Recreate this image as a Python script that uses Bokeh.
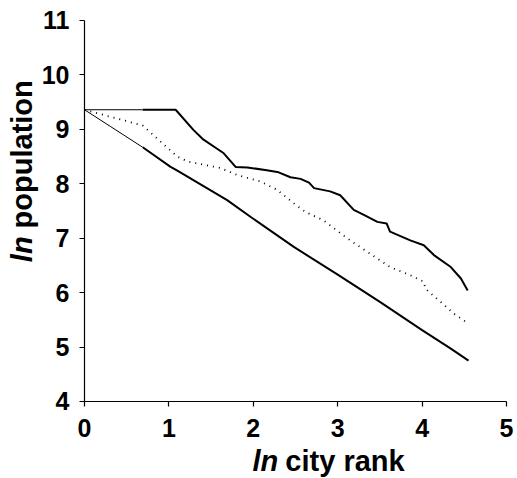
from bokeh.plotting import figure
from bokeh.models import Range1d, Label, LinearAxis, FixedTicker
from bokeh.embed import file_html
from bokeh.resources import INLINE
import math

# ln city rank / ln population
top_x = [0, 0.69, 1.08, 1.29, 1.41, 1.65, 1.79, 1.93, 2.16, 2.30, 2.44, 2.56, 2.66, 2.72,
         2.91, 3.03, 3.19, 3.31, 3.47, 3.58, 3.62, 3.86, 4.02, 4.14, 4.34, 4.46, 4.54]
top_y = [9.36, 9.36, 9.36, 8.99, 8.81, 8.56, 8.31, 8.30, 8.25, 8.21, 8.12, 8.09, 8.02, 7.92,
         7.86, 7.79, 7.52, 7.43, 7.30, 7.27, 7.12, 6.96, 6.87, 6.69, 6.47, 6.26, 6.04]

mid_x = [0, 0.69, 1.10, 1.22, 1.41, 1.61, 1.81, 2.09, 2.28, 2.48, 2.62, 2.83, 3.11, 3.35,
         3.62, 3.86, 4.02, 4.04, 4.22, 4.38, 4.55]
mid_y = [9.36, 9.07, 8.50, 8.41, 8.35, 8.29, 8.16, 8.04, 7.89, 7.64, 7.48, 7.33, 7.00, 6.75,
         6.47, 6.32, 6.20, 6.07, 5.83, 5.61, 5.43]

bot_x = [0, 0.31, 0.69, 1.02, 1.10, 1.69, 1.97, 2.48, 3.0, 3.5, 4.0, 4.34, 4.55]
bot_y = [9.36, 9.05, 8.67, 8.31, 8.24, 7.70, 7.39, 6.84, 6.33, 5.83, 5.31, 4.97, 4.75]

x_ticks = [0, 1, 2, 3, 4, 5]
y_ticks = [4, 5, 6, 7, 8, 9, 10, 11]
x_min, x_max = 0, 5
y_min, y_max = 4, 11

FONT = "Liberation Sans"

# frame covers the whole canvas; axes are drawn at fixed locations inside it
p = figure(width=517, height=478, output_backend="svg", toolbar_location=None,
           x_range=Range1d(-0.9953, 5.1303), y_range=Range1d(2.5853, 11.367),
           x_axis_type=None, y_axis_type=None, min_border=0)
p.outline_line_color = None
p.background_fill_color = "white"
p.border_fill_color = "white"

xaxis = LinearAxis(fixed_location=y_min, bounds=(x_min, x_max), ticker=FixedTicker(ticks=x_ticks))
yaxis = LinearAxis(fixed_location=x_min, bounds=(y_min, y_max), ticker=FixedTicker(ticks=y_ticks))
for ax in (xaxis, yaxis):
    ax.axis_line_color = "black"
    ax.axis_line_width = 1.2
    ax.major_tick_line_color = "black"
    ax.major_tick_line_width = 1.2
    ax.major_tick_out = 5
    ax.major_tick_in = 0
    ax.minor_tick_line_color = None
    ax.major_label_text_font = FONT
    ax.major_label_text_font_style = "bold"
    ax.major_label_text_font_size = "25px"
    ax.major_label_text_color = "black"
xaxis.major_label_standoff = 13
yaxis.major_label_standoff = 10
p.add_layout(xaxis, "below")
p.add_layout(yaxis, "left")

# lines: first segment thin, rest thicker
p.line(top_x[:2], top_y[:2], line_color="black", line_width=1)
p.line(top_x[1:], top_y[1:], line_color="black", line_width=2)
p.line(mid_x, mid_y, line_color="black", line_width=1.8, line_dash="1 5")
p.line(bot_x[:3], bot_y[:3], line_color="black", line_width=1)
p.line(bot_x[2:], bot_y[2:], line_color="black", line_width=2)

# axis titles (mixed italic/upright)
common = dict(text_font=FONT, text_font_size="29px", text_color="black",
              text_baseline="alphabetic", text_align="left")
p.add_layout(Label(x=1.99, y=2.91, text="ln", text_font_style="bold italic", **common))
p.add_layout(Label(x=2.38, y=2.91, text="city rank", text_font_style="bold", **common))
p.add_layout(Label(x=-0.74, y=6.56, text="ln", angle=math.pi / 2,
                   text_font_style="bold italic", **common))
p.add_layout(Label(x=-0.74, y=7.18, text="population", angle=math.pi / 2,
                   text_font_style="bold", **common))

open("out.html", "w").write(file_html(p, INLINE))
